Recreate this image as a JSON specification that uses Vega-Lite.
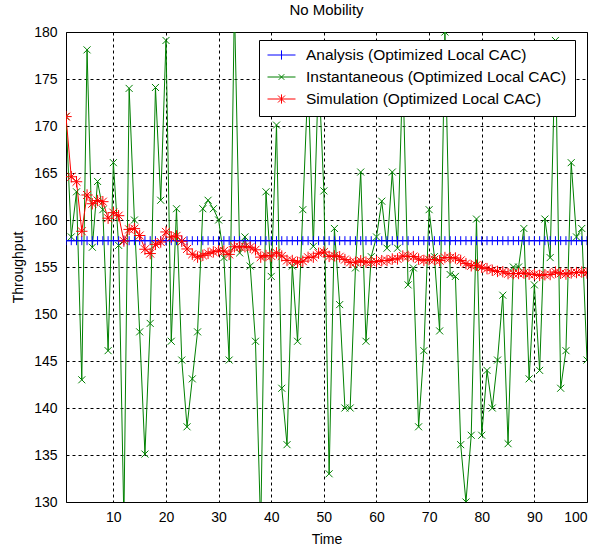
{
  "$schema": "https://vega.github.io/schema/vega-lite/v6.json",
  "width": 521,
  "height": 470,
  "autosize": {"type": "none"},
  "padding": {"left": 66, "top": 32, "right": 11, "bottom": 50},
  "background": "white",
  "title": {"text": "No Mobility", "font": "Liberation Sans", "fontSize": 15, "fontWeight": "normal", "color": "black", "offset": 7},
  "data": {"values": [
    {"t":1,"A":157.8,"I":171,"S":171},
    {"t":2,"A":157.8,"I":158.2,"S":164.6},
    {"t":3,"A":157.8,"I":163,"S":164.07},
    {"t":4,"A":157.8,"I":143,"S":158.8},
    {"t":5,"A":157.8,"I":178.1,"S":162.66},
    {"t":6,"A":157.8,"I":157.1,"S":161.73},
    {"t":7,"A":157.8,"I":164.1,"S":162.07},
    {"t":8,"A":157.8,"I":161.1,"S":161.95},
    {"t":9,"A":157.8,"I":146.1,"S":160.19},
    {"t":10,"A":157.8,"I":166.1,"S":160.78},
    {"t":11,"A":157.8,"I":157.3,"S":160.46},
    {"t":12,"A":157.8,"I":128,"S":157.76},
    {"t":13,"A":157.8,"I":174,"S":159.0},
    {"t":14,"A":157.8,"I":160,"S":159.08},
    {"t":15,"A":157.8,"I":148.1,"S":158.35},
    {"t":16,"A":157.8,"I":135.1,"S":156.89},
    {"t":17,"A":157.8,"I":149,"S":156.43},
    {"t":18,"A":157.8,"I":174.1,"S":157.41},
    {"t":19,"A":157.8,"I":162.1,"S":157.66},
    {"t":20,"A":157.8,"I":179.1,"S":158.73},
    {"t":21,"A":157.8,"I":147.1,"S":158.18},
    {"t":22,"A":157.8,"I":161.2,"S":158.31},
    {"t":23,"A":157.8,"I":145.1,"S":157.74},
    {"t":24,"A":157.8,"I":138,"S":156.92},
    {"t":25,"A":157.8,"I":143.1,"S":156.36},
    {"t":26,"A":157.8,"I":148.1,"S":156.05},
    {"t":27,"A":157.8,"I":161.2,"S":156.24},
    {"t":28,"A":157.8,"I":162.1,"S":156.45},
    {"t":29,"A":157.8,"I":161.2,"S":156.61},
    {"t":30,"A":157.8,"I":160,"S":156.72},
    {"t":31,"A":157.8,"I":156,"S":156.7},
    {"t":32,"A":157.8,"I":145.1,"S":156.34},
    {"t":33,"A":157.8,"I":183,"S":157.15},
    {"t":34,"A":157.8,"I":156.5,"S":157.13},
    {"t":35,"A":157.8,"I":158.2,"S":157.16},
    {"t":36,"A":157.8,"I":155.1,"S":157.1},
    {"t":37,"A":157.8,"I":147.1,"S":156.83},
    {"t":38,"A":157.8,"I":127,"S":156.05},
    {"t":39,"A":157.8,"I":163,"S":156.22},
    {"t":40,"A":157.8,"I":154,"S":156.17},
    {"t":41,"A":157.8,"I":170.1,"S":156.51},
    {"t":42,"A":157.8,"I":142.1,"S":156.17},
    {"t":43,"A":157.8,"I":136.1,"S":155.7},
    {"t":44,"A":157.8,"I":155.1,"S":155.69},
    {"t":45,"A":157.8,"I":147.1,"S":155.5},
    {"t":46,"A":157.8,"I":161.1,"S":155.62},
    {"t":47,"A":157.8,"I":175,"S":156.03},
    {"t":48,"A":157.8,"I":157.2,"S":156.05},
    {"t":49,"A":157.8,"I":176,"S":156.46},
    {"t":50,"A":157.8,"I":163.1,"S":156.59},
    {"t":51,"A":157.8,"I":133,"S":156.13},
    {"t":52,"A":157.8,"I":159.1,"S":156.19},
    {"t":53,"A":157.8,"I":151,"S":156.09},
    {"t":54,"A":157.8,"I":140,"S":155.79},
    {"t":55,"A":157.8,"I":140,"S":155.5},
    {"t":56,"A":157.8,"I":154.9,"S":155.5},
    {"t":57,"A":157.8,"I":165.1,"S":155.66},
    {"t":58,"A":157.8,"I":147.1,"S":155.51},
    {"t":59,"A":157.8,"I":156.1,"S":155.53},
    {"t":60,"A":157.8,"I":158.2,"S":155.57},
    {"t":61,"A":157.8,"I":162,"S":155.67},
    {"t":62,"A":157.8,"I":157,"S":155.69},
    {"t":63,"A":157.8,"I":165.1,"S":155.85},
    {"t":64,"A":157.8,"I":157,"S":155.86},
    {"t":65,"A":157.8,"I":176,"S":156.17},
    {"t":66,"A":157.8,"I":153.1,"S":156.13},
    {"t":67,"A":157.8,"I":154.9,"S":156.11},
    {"t":68,"A":157.8,"I":138,"S":155.84},
    {"t":69,"A":157.8,"I":146.1,"S":155.7},
    {"t":70,"A":157.8,"I":161.1,"S":155.78},
    {"t":71,"A":157.8,"I":156.1,"S":155.78},
    {"t":72,"A":157.8,"I":148.2,"S":155.68},
    {"t":73,"A":157.8,"I":180,"S":156.01},
    {"t":74,"A":157.8,"I":154.2,"S":155.98},
    {"t":75,"A":157.8,"I":154,"S":155.96},
    {"t":76,"A":157.8,"I":136.1,"S":155.7},
    {"t":77,"A":157.8,"I":130,"S":155.36},
    {"t":78,"A":157.8,"I":137.1,"S":155.13},
    {"t":79,"A":157.8,"I":160.1,"S":155.19},
    {"t":80,"A":157.8,"I":137.1,"S":154.97},
    {"t":81,"A":157.8,"I":144,"S":154.83},
    {"t":82,"A":157.8,"I":140,"S":154.65},
    {"t":83,"A":157.8,"I":145.1,"S":154.53},
    {"t":84,"A":157.8,"I":152,"S":154.5},
    {"t":85,"A":157.8,"I":136.2,"S":154.29},
    {"t":86,"A":157.8,"I":155,"S":154.3},
    {"t":87,"A":157.8,"I":155,"S":154.31},
    {"t":88,"A":157.8,"I":159.1,"S":154.36},
    {"t":89,"A":157.8,"I":143.1,"S":154.24},
    {"t":90,"A":157.8,"I":153.1,"S":154.22},
    {"t":91,"A":157.8,"I":144,"S":154.11},
    {"t":92,"A":157.8,"I":160.1,"S":154.18},
    {"t":93,"A":157.8,"I":156,"S":154.2},
    {"t":94,"A":157.8,"I":179.1,"S":154.46},
    {"t":95,"A":157.8,"I":142.1,"S":154.33},
    {"t":96,"A":157.8,"I":146.1,"S":154.25},
    {"t":97,"A":157.8,"I":166.1,"S":154.37},
    {"t":98,"A":157.8,"I":158.2,"S":154.41},
    {"t":99,"A":157.8,"I":159.1,"S":154.46},
    {"t":100,"A":157.8,"I":145.1,"S":154.36}
  ]},
  "transform": [{"fold": ["A", "I", "S"], "as": ["s", "y"]}],
  "encoding": {
    "x": {
      "field": "t", "type": "quantitative",
      "scale": {"domain": [1, 100], "nice": false, "zero": false},
      "axis": {"values": [10, 20, 30, 40, 50, 60, 70, 80, 90, 100], "title": "Time", "labelPadding": 8, "titlePadding": 8}
    },
    "y": {
      "field": "y", "type": "quantitative",
      "scale": {"domain": [130, 180], "nice": false, "zero": false},
      "axis": {"values": [130, 135, 140, 145, 150, 155, 160, 165, 170, 175, 180], "title": "Throughput", "labelPadding": 9, "titlePadding": 8}
    },
    "color": {
      "field": "s", "type": "nominal",
      "scale": {"domain": ["A", "I", "S"], "range": ["#0000ff", "#008000", "#ff0000"]},
      "legend": {
        "title": null,
        "orient": "none",
        "legendX": 193,
        "legendY": 8,
        "labelLimit": 500,
        "labelExpr": "datum.value === 'A' ? 'Analysis (Optimized Local CAC)' : datum.value === 'I' ? 'Instantaneous (Optimized Local CAC)' : 'Simulation (Optimized Local CAC)'"
      }
    }
  },
  "layer": [
    {"mark": {"type": "line", "strokeWidth": 1, "clip": true}},
    {
      "transform": [{"filter": "datum.s === 'A'"}],
      "mark": {"type": "point", "filled": false, "strokeWidth": 1, "opacity": 1, "clip": true, "shape": "M-1,0H1M0,-1V1", "size": 81}
    },
    {
      "transform": [{"filter": "datum.s === 'I'"}],
      "mark": {"type": "point", "filled": false, "strokeWidth": 1, "opacity": 1, "clip": true, "shape": "M-1,-1L1,1M-1,1L1,-1", "size": 49}
    },
    {
      "transform": [{"filter": "datum.s === 'S'"}],
      "mark": {"type": "point", "filled": false, "strokeWidth": 1, "opacity": 1, "clip": true, "shape": "M-1,0H1M0,-1V1M-0.7,-0.7L0.7,0.7M-0.7,0.7L0.7,-0.7", "size": 130}
    },
    {
      "transform": [{"filter": "datum.t > 1000"}],
      "mark": {"type": "point", "filled": false, "strokeWidth": 1, "opacity": 1, "clip": true},
      "encoding": {
        "shape": {
          "field": "s", "type": "nominal",
          "scale": {"domain": ["A", "I", "S"], "range": ["M-1,0H1M0,-0.33V0.33", "M-1,0H1M-0.2,-0.2L0.2,0.2M-0.2,0.2L0.2,-0.2", "M-1,0H1M0,-0.33V0.33M-0.25,-0.25L0.25,0.25M-0.25,0.25L0.25,-0.25"]},
          "legend": {
            "title": null,
            "orient": "none",
            "legendX": 193,
            "legendY": 8,
            "labelLimit": 500,
            "labelExpr": "datum.value === 'A' ? 'Analysis (Optimized Local CAC)' : datum.value === 'I' ? 'Instantaneous (Optimized Local CAC)' : 'Simulation (Optimized Local CAC)'"
          }
        }
      }
    }
  ],
  "config": {
    "view": {"stroke": "black", "strokeWidth": 1},
    "axis": {
      "domain": false,
      "ticks": false,
      "grid": true,
      "gridColor": "black",
      "gridDash": [3, 3],
      "gridWidth": 1,
      "gridOpacity": 1,
      "labelFont": "Liberation Sans",
      "labelFontSize": 14,
      "labelColor": "black",
      "titleFont": "Liberation Sans",
      "titleFontSize": 14,
      "titleFontWeight": "normal",
      "titleColor": "black"
    },
    "legend": {
      "fillColor": "white",
      "strokeColor": "black",
      "padding": 8,
      "cornerRadius": 0,
      "labelFont": "Liberation Sans",
      "labelFontSize": 15.5,
      "labelColor": "black",
      "symbolSize": 784,
      "symbolStrokeWidth": 1,
      "clipHeight": 14,
      "rowPadding": 6,
      "labelOffset": 10
    }
  }
}
